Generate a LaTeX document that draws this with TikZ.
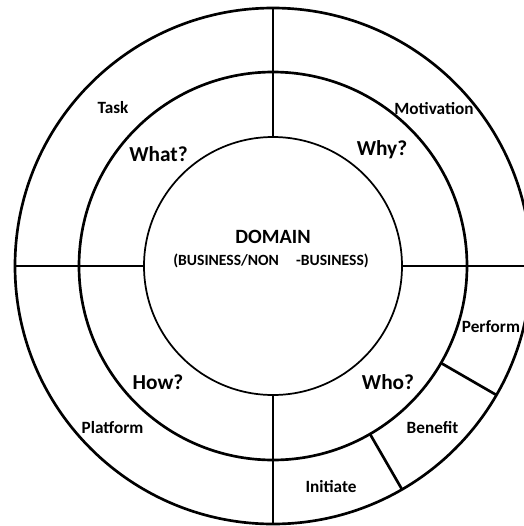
\documentclass[tikz,border=0pt]{standalone}
\usepackage{fontspec}
\setmainfont{Carlito}
\usepackage{tikz}

\tikzset{
  ring/.style={line width=2pt},
  inring/.style={line width=1.3pt},
  thickdiv/.style={line width=2pt},
  thindiv/.style={line width=1.2pt},
  lbl/.style={anchor=base,inner sep=0pt,font=\bfseries\fontsize{12.9}{14}\selectfont},
  quest/.style={anchor=base,inner sep=0pt,font=\bfseries\fontsize{16}{18}\selectfont},
  title/.style={anchor=base,inner sep=0pt,font=\bfseries\fontsize{15.2}{17}\selectfont},
  subtitle/.style={anchor=base,inner sep=0pt,font=\bfseries\fontsize{11.7}{13}\selectfont}
}

\begin{document}
\begin{tikzpicture}[x=0.75pt,y=0.75pt,yscale=-1,xscale=1]
\clip (0,0) rectangle (524,526);
\coordinate (o) at (273,266);

%Shape: Circles
\draw [ring] (o) circle [radius=258];
\draw [ring] (o) circle [radius=194];
\draw [inring] (o) circle [radius=129];

%Straight Lines (outer ring)
\draw [thickdiv] (273,8) -- (273,72);
\draw [thickdiv] (273,460) -- (273,524);
\draw [thickdiv] (15,266) -- (79,266);
\draw [thickdiv] (467,266) -- (531,266);
\draw [thickdiv] (441,363) -- (496.4,395);
\draw [thickdiv] (370,434) -- (402,489.4);

%Straight Lines (middle ring)
\draw [thindiv] (273,72) -- (273,137);
\draw [thindiv] (273,395) -- (273,460);
\draw [thindiv] (79,266) -- (144,266);
\draw [thindiv] (402,266) -- (467,266);

%Texts
\node [title] (domain) at (273,243) {DOMAIN};
\node [subtitle] (kind) at (271,265) {(BUSINESS/NON\hspace{1.1em}-BUSINESS)};

\node [quest] (what) at (158.5,161) {What?};
\node [quest] (why) at (382,155) {Why?};
\node [quest] (how) at (158,389) {How?};
\node [quest] (who) at (388,389) {Who?};

\node [lbl] (task) at (113,113) {Task};
\node [lbl] (motivation) at (434,114.5) {Motivation};
\node [lbl] (perform) at (491,332) {Perform};
\node [lbl] (platform) at (112.5,433) {Platform};
\node [lbl] (benefit) at (432.5,433) {Benefit};
\node [lbl] (initiate) at (331,492) {Initiate};

\end{tikzpicture}
\end{document}
